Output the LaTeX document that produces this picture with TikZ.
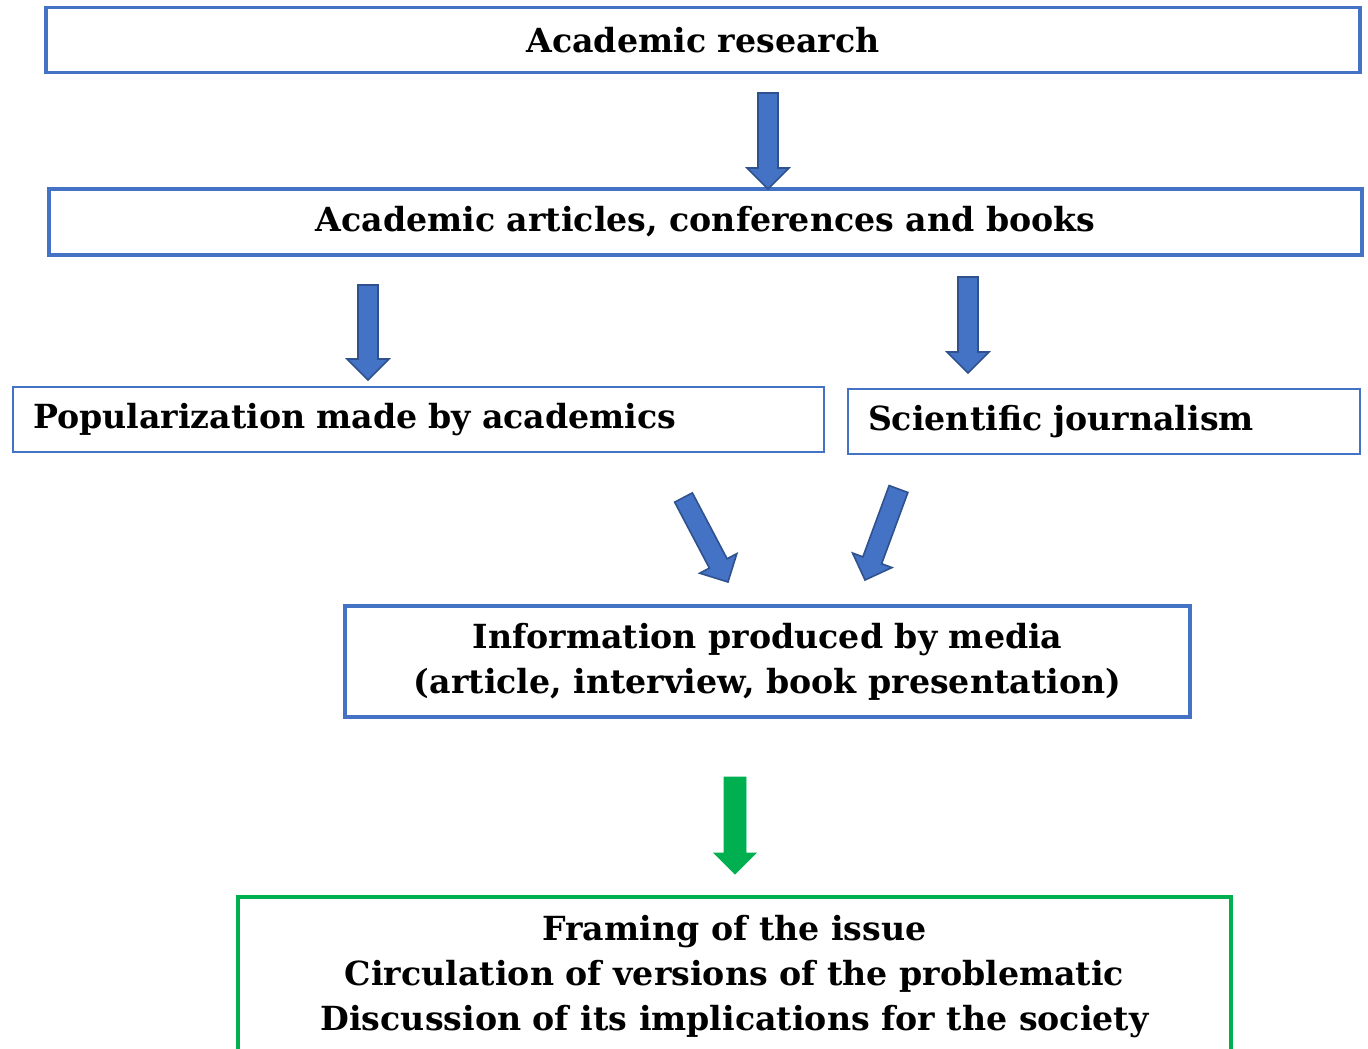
\documentclass[tikz,border=0pt]{standalone}
\usepackage{fontspec}
\setmainfont{DejaVu Serif}
\usepackage{xcolor}
\usetikzlibrary{calc}

\definecolor{boxblue}{HTML}{4472C4}
\definecolor{edgeblue}{HTML}{2F528F}
\definecolor{boxgreen}{HTML}{00B050}

% block arrow from #3 to #4, half shaft width #1
\newcommand{\blockarrow}[4][5pt]{%
  \coordinate (hb) at ($(#4)!10.5pt!(#3)$);
  \draw[#2] ($(#3)!#1!90:(#4)$) -- ($(hb)!#1!90:(#4)$) -- ($(hb)!10.5pt!90:(#4)$) -- (#4)
    -- ($(hb)!10.5pt!-90:(#4)$) -- ($(hb)!#1!-90:(#4)$) -- ($(#3)!#1!-90:(#4)$) -- cycle;}

\begin{document}
\begin{tikzpicture}[x=0.5pt,y=-0.5pt,
    stage/.style={draw=boxblue, line width=1.6pt, inner sep=0pt, minimum height=32.5pt,
      align=center, font=\bfseries\fontsize{16.6}{22.5}\selectfont},
    side/.style={stage, line width=1pt, inner xsep=10pt, align=left},
    bluearrow/.style={fill=boxblue, draw=edgeblue, line width=0.8pt},
    greenarrow/.style={fill=boxgreen, draw=boxgreen, line width=0.4pt}]
    \useasboundingbox (0,0) rectangle (1368,1048);

    \node[stage, minimum width=657pt] (research) at (703,40) {Academic research};
    \node[stage, minimum width=656.5pt, minimum height=33pt] (articles) at (705.5,222) {Academic articles, conferences and books};
    \node[side, text width=385.5pt] (popular) at (418.5,419.5) {Popularization made by academics};
    \node[side, text width=236pt] (journal) at (1104,421.5) {Scientific journalism};
    \node[stage, minimum width=422.5pt, minimum height=55.5pt] (media) at (767.5,661.5)
      {Information produced by media\\(article, interview, book presentation)};
    \node[stage, draw=boxgreen, minimum width=496.5pt, minimum height=80pt] (issue) at (734.5,977)
      {Framing of the issue\\Circulation of versions of the problematic\\Discussion of its implications for the society};

    \coordinate (a1s) at (768,93);   \coordinate (a1e) at (768,189);
    \coordinate (a2s) at (368,285);  \coordinate (a2e) at (368,380);
    \coordinate (a3s) at (968,277);  \coordinate (a3e) at (968,373);
    \coordinate (a4s) at (683.5,497.5); \coordinate (a4e) at (728,582);
    \coordinate (a5s) at (898.5,489);   \coordinate (a5e) at (865,580);
    \coordinate (a6s) at (735,777);  \coordinate (a6e) at (735,874);

    \blockarrow{bluearrow}{a1s}{a1e}
    \blockarrow{bluearrow}{a2s}{a2e}
    \blockarrow{bluearrow}{a3s}{a3e}
    \blockarrow{bluearrow}{a4s}{a4e}
    \blockarrow{bluearrow}{a5s}{a5e}
    \blockarrow[5.5pt]{greenarrow}{a6s}{a6e}
\end{tikzpicture}
\end{document}
